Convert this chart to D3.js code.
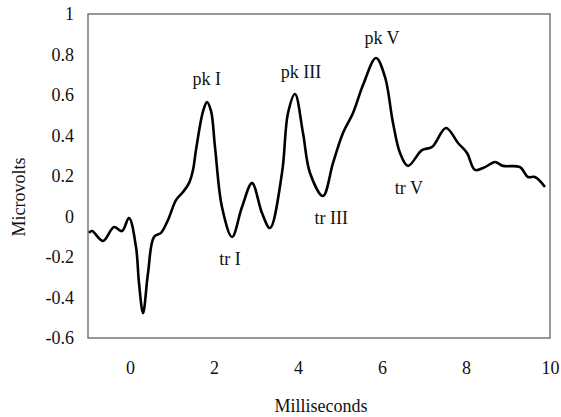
<!DOCTYPE html>
<html><head><meta charset="utf-8">
<script src="https://cdn.jsdelivr.net/npm/d3@7"></script>
<style>
html,body{margin:0;padding:0;background:#fff;}
text{font-family:"Liberation Serif","Times New Roman",serif;fill:#111;}
</style></head>
<body><svg id="c" width="561" height="417"></svg>
<script>
const timeMs = [-0.976,-0.905,-0.643,-0.381,-0.19,-0.024,0.143,0.214,0.31,0.429,0.571,0.738,0.905,1.095,1.262,1.405,1.5,1.571,1.74,1.833,1.93,2.024,2.19,2.43,2.667,2.905,3.143,3.333,3.619,3.762,3.929,4.119,4.286,4.595,4.833,5.071,5.31,5.548,5.857,6.071,6.262,6.429,6.619,6.952,7.19,7.524,7.81,8.024,8.214,8.452,8.69,8.881,9.286,9.476,9.643,9.881];
const microvolts = [-0.081,-0.072,-0.121,-0.052,-0.072,-0.007,-0.151,-0.328,-0.477,-0.279,-0.101,-0.081,-0.017,0.081,0.121,0.165,0.23,0.328,0.52,0.565,0.52,0.343,0.047,-0.101,0.047,0.165,0.017,-0.057,0.215,0.511,0.605,0.412,0.215,0.101,0.264,0.412,0.511,0.649,0.783,0.689,0.462,0.314,0.25,0.328,0.343,0.437,0.363,0.314,0.23,0.244,0.269,0.25,0.244,0.195,0.195,0.146];
const xTicks = [0,2,4,6,8,10];
const yTicks = [-0.6,-0.4,-0.2,0,0.2,0.4,0.6,0.8,1];
const yTickLabels = ["-0.6","-0.4","-0.2","0","0.2","0.4","0.6","0.8","1"];
const annLabels = ["pk I","pk III","pk V","tr I","tr III","tr V"];
const annX = [1.83,4.07,6.0,2.38,4.79,6.64];
const annY = [0.65,0.685,0.85,-0.24,-0.037,0.11];

const svg = d3.select("#c");
const x = d3.scaleLinear().domain([-1,10]).range([88,550]);
const y = d3.scaleLinear().domain([-0.6,1]).range([338,14]);

svg.append("rect").attr("x",x(-1)).attr("y",y(1)).attr("width",x(10)-x(-1)).attr("height",y(-0.6)-y(1))
  .attr("fill","none").attr("stroke","#555").attr("stroke-width",1.2);

const ya = svg.append("g").attr("transform",`translate(${x(-1)-11},0)`)
  .call(d3.axisLeft(y).tickValues(yTicks).tickSize(0).tickFormat((d,i)=>yTickLabels[i]));
ya.select(".domain").remove();
ya.selectAll("text").attr("font-size",18).attr("font-family","Liberation Serif").attr("fill","#111");

const xa = svg.append("g").attr("transform",`translate(0,${y(-0.6)+20})`)
  .call(d3.axisBottom(x).tickValues(xTicks).tickSize(0).tickFormat(d3.format("d")));
xa.select(".domain").remove();
xa.selectAll("text").attr("font-size",18).attr("font-family","Liberation Serif").attr("fill","#111");

const line = d3.line().x((d,i)=>x(timeMs[i])).y((d,i)=>y(microvolts[i])).curve(d3.curveCatmullRom.alpha(0.5));
svg.append("path").datum(microvolts).attr("d",line).attr("fill","none").attr("stroke","#000")
  .attr("stroke-width",2.6).attr("stroke-linejoin","round");

svg.selectAll("text.ann").data(annLabels).enter().append("text").attr("class","ann")
  .attr("x",(d,i)=>x(annX[i])).attr("y",(d,i)=>y(annY[i])).attr("text-anchor","middle")
  .attr("font-size",18).text(d=>d);

svg.append("text").attr("transform",`translate(25,197) rotate(-90)`).attr("text-anchor","middle")
  .attr("font-size",18).text("Microvolts");
svg.append("text").attr("x",321).attr("y",412).attr("text-anchor","middle")
  .attr("font-size",18).text("Milliseconds");
</script></body></html>
